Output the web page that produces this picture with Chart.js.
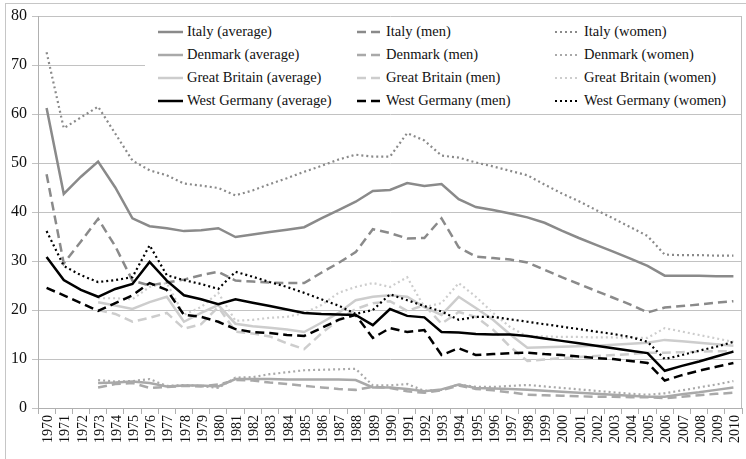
<!DOCTYPE html>
<html>
<head>
<meta charset="utf-8">
<script src="https://cdn.jsdelivr.net/npm/chart.js@4.4.1/dist/chart.umd.min.js"></script>
<style>
  html, body { margin: 0; padding: 0; background: #fff; }
  #wrap { position: relative; width: 746px; height: 459px; overflow: hidden; font-family: 'Liberation Serif', 'Times New Roman', 'DejaVu Serif', serif; }
  #frame { position: absolute; left: 5px; top: 3px; width: 800px; height: 500px; border: 1px solid #c6c6c6; pointer-events: none; }
  #legend { position: absolute; left: 145px; top: 17px; width: 596px; height: 95px; background: #fff; }
  .item { position: absolute; height: 20px; line-height: 20px; font-size: 14.5px; color: #111; white-space: nowrap; }
  .item svg { position: absolute; left: 0; top: 9px; }
  .item span { position: absolute; left: 29px; top: 0; }
</style>
</head>
<body>
<div id="wrap">
  <canvas id="chart" width="746" height="459"></canvas>
  <div id="legend"></div>
  <div id="frame"></div>
</div>
<script>
const years = [];
for (let y = 1970; y <= 2010; y++) years.push(String(y));

const yTicks = [0, 10, 20, 30, 40, 50, 60, 70, 80];

// 1970 .. 2010
const italyAvg = [61.2, 43.7, 47.2, 50.3, 45, 38.7, 37.1, 36.7, 36.1, 36.3, 36.7, 34.9, 35.4, 35.9, 36.4, 36.9, 38.7, 40.4, 42.1, 44.3, 44.5, 45.9, 45.3, 45.7, 42.6, 41, 40.4, 39.7, 38.9, 37.8, 36.2, 34.7, 33.3, 31.9, 30.5, 29, 27, 27, 27, 26.9, 26.9];
const italyMen = [47.7, 29.5, 34, 38.6, 33, 26, 25, 25.6, 26.2, 27.1, 27.8, 26, 25.8, 25.6, 25.5, 25.5, 27.6, 29.6, 31.8, 36.5, 35.7, 34.6, 34.7, 38.7, 32.8, 30.9, 30.6, 30.3, 29.7, 28.2, 26.7, 25.3, 23.9, 22.5, 21.1, 19.5, 20.5, 20.8, 21.1, 21.5, 21.8];
const italyWomen = [72.6, 57.1, 59.3, 61.5, 56, 50.5, 48.5, 47.5, 45.8, 45.4, 44.9, 43.4, 44.4, 45.7, 46.9, 48.2, 49.4, 50.7, 51.7, 51.3, 51.3, 56.1, 54.6, 51.5, 51.1, 50.1, 49.3, 48.4, 47.5, 45.6, 43.8, 42.2, 40.4, 38.7, 36.9, 35.1, 31.3, 31.2, 31.2, 31.1, 31.1];

const denmarkAvg = [null, null, null, 5.1, 5.2, 5.4, 5.1, 4.4, 4.6, 4.6, 4.4, 5.9, 5.9, 5.9, 5.8, 5.8, 5.8, 5.8, 5.7, 4.2, 4.2, 3.9, 3.4, 3.8, 4.8, 4.1, 4, 3.9, 3.7, 3.5, 3.3, 3.1, 2.9, 2.7, 2.5, 2.3, 2.3, 2.8, 3.2, 3.7, 4.2];
const denmarkMen = [null, null, null, 4.2, 4.9, 5.1, 4.1, 4.3, 4.5, 4.4, 4.8, 5.7, 5.6, 5.2, 4.9, 4.5, 4.2, 3.9, 3.7, 4.3, 4.1, 3.4, 3.1, 3.6, 4.6, 3.9, 3.6, 3.2, 2.7, 2.6, 2.5, 2.4, 2.3, 2.3, 2.2, 2.2, 2, 2.3, 2.6, 2.9, 3.1];
const denmarkWomen = [null, null, null, 5.7, 5.4, 5.5, 5.9, 4.5, 4.7, 4.5, 4.1, 6.2, 6.3, 6.9, 7.3, 7.7, 7.8, 7.9, 8, 4.6, 4.6, 4.9, 3.5, 3.7, 4.8, 4.3, 4.3, 4.5, 4.7, 4.4, 4.1, 3.8, 3.5, 3.2, 2.9, 2.7, 3, 3.6, 4.2, 4.8, 5.5];

const britainAvg = [null, null, null, 21.6, 20.9, 20.2, 21.6, 22.7, 17.6, 19.4, 21, 17.2, 16.7, 16.4, 16, 15.5, 17.4, 19.4, 22, 22.7, 23, 22.7, 20.6, 19, 22.7, 20.4, 18, 15, 12.3, 12.4, 12.5, 12.6, 12.7, 12.9, 13.1, 13.3, 13.9, 13.6, 13.3, 13, 12.7];
const britainMen = [null, null, null, 20, 19.2, 17.6, 18.4, 19.4, 16.2, 17.1, 20.6, 15.6, 15.2, 14.6, 13.2, 12, 15.2, 18, 20.2, 21.4, 21.8, 19.8, 21, 17.2, 19.6, 18.6, 16, 12.5, 9.6, 9.9, 10.2, 10.4, 10.6, 10.8, 11, 11.3, 11.3, 11.4, 11.5, 11.6, 11.6];
const britainWomen = [null, null, null, 22.4, 22.4, 22.2, 24.7, 25.5, 19, 20.6, 23.5, 17.8, 18, 18.4, 18.6, 19.4, 21, 23.5, 24.7, 25.5, 24.7, 26.7, 20.6, 21.4, 25.5, 22.7, 19.4, 16.5, 14.6, 14.6, 14.5, 14.5, 14.4, 14.4, 14.3, 14.3, 16.3, 15.6, 14.9, 14.2, 13.5];

const germanyAvg = [30.8, 26.1, 24.1, 22.7, 24.3, 25.3, 29.8, 26, 23, 22.2, 21.2, 22.2, 21.5, 20.8, 20.1, 19.4, 19.2, 19.1, 19, 16.9, 20.2, 18.8, 18.5, 15.5, 15.4, 15.1, 15, 15, 14.7, 14.2, 13.7, 13.2, 12.7, 12.2, 11.7, 11.2, 7.6, 8.6, 9.5, 10.5, 11.5];
const germanyMen = [24.5, 23, 21.4, 19.8, 21.4, 23, 25.5, 24.1, 19, 18.6, 17.6, 16.1, 15.5, 15.3, 14.9, 14.7, 16.3, 18, 19, 14.3, 16.3, 15.5, 15.9, 10.8, 12.2, 10.8, 11, 11.2, 11.3, 11, 10.8, 10.5, 10.2, 10, 9.6, 9.2, 5.6, 6.7, 7.6, 8.4, 9.2];
const germanyWomen = [36.1, 29, 27.1, 25.7, 26.1, 26.7, 33.2, 27.1, 26.1, 25.3, 24.3, 27.8, 26.8, 25.7, 24.7, 23.5, 22.2, 20.9, 19.2, 20, 23.2, 22, 20.8, 19.7, 18, 18.6, 18.6, 18.1, 17.6, 17.1, 16.6, 16.1, 15.6, 15.1, 14.5, 13.5, 10, 10.8, 11.7, 12.5, 13.5];

const FONT = "'Liberation Serif', 'Times New Roman', 'DejaVu Serif', serif";
const COLORS = { italy: '#8a8a8a', denmark: '#a9a9a9', britain: '#cdcdcd', germany: '#000000' };
const STYLES = {
  average: { dash: [], width: 2.5 },
  men: { dash: [9, 5], width: 2.5 },
  women: { dash: [2, 3], width: 2.2 },
};

// legend layout is column-major: averages, men, women
const series = [
  { label: 'Italy (average)', data: italyAvg, color: COLORS.italy, style: 'average', col: 0, row: 0 },
  { label: 'Denmark (average)', data: denmarkAvg, color: COLORS.denmark, style: 'average', col: 0, row: 1 },
  { label: 'Great Britain (average)', data: britainAvg, color: COLORS.britain, style: 'average', col: 0, row: 2 },
  { label: 'West Germany (average)', data: germanyAvg, color: COLORS.germany, style: 'average', col: 0, row: 3 },
  { label: 'Italy (men)', data: italyMen, color: COLORS.italy, style: 'men', col: 1, row: 0 },
  { label: 'Denmark (men)', data: denmarkMen, color: COLORS.denmark, style: 'men', col: 1, row: 1 },
  { label: 'Great Britain (men)', data: britainMen, color: COLORS.britain, style: 'men', col: 1, row: 2 },
  { label: 'West Germany (men)', data: germanyMen, color: COLORS.germany, style: 'men', col: 1, row: 3 },
  { label: 'Italy (women)', data: italyWomen, color: COLORS.italy, style: 'women', col: 2, row: 0 },
  { label: 'Denmark (women)', data: denmarkWomen, color: COLORS.denmark, style: 'women', col: 2, row: 1 },
  { label: 'Great Britain (women)', data: britainWomen, color: COLORS.britain, style: 'women', col: 2, row: 2 },
  { label: 'West Germany (women)', data: germanyWomen, color: COLORS.germany, style: 'women', col: 2, row: 3 },
];

// germany on top, then italy, then the light ones
const drawRank = { germany: 0, italy: 1, denmark: 2, britain: 3 };
const datasets = series.map(s => {
  const key = Object.keys(COLORS).find(k => COLORS[k] === s.color);
  return {
    label: s.label,
    data: s.data,
    borderColor: s.color,
    borderWidth: STYLES[s.style].width,
    borderDash: STYLES[s.style].dash,
    borderCapStyle: 'butt',
    pointRadius: 0,
    tension: 0,
    fill: false,
    order: drawRank[key],
  };
});

const plotBorder = {
  id: 'plotBorder',
  afterDraw(chart) {
    const { ctx, chartArea } = chart;
    ctx.save();
    ctx.strokeStyle = '#bdbdbd';
    ctx.lineWidth = 1;
    ctx.beginPath();
    ctx.moveTo(Math.round(chartArea.right) - 0.5, chartArea.top);
    ctx.lineTo(Math.round(chartArea.right) - 0.5, chartArea.bottom);
    ctx.stroke();
    ctx.restore();
  },
};

new Chart(document.getElementById('chart'), {
  type: 'line',
  data: { labels: years, datasets },
  options: {
    responsive: false,
    animation: false,
    layout: { padding: { top: 16, right: 4, left: 0, bottom: 0 } },
    plugins: { legend: { display: false }, tooltip: { enabled: false } },
    scales: {
      x: {
        offset: true,
        grid: { offset: true, drawOnChartArea: false, tickLength: 6, color: '#b0b0b0' },
        border: { color: '#b0b0b0' },
        ticks: {
          autoSkip: false, minRotation: 90, maxRotation: 90, padding: 1, labelOffset: 2,
          color: '#111', font: { family: FONT, size: 14 },
        },
        afterFit: s => { s.height = 51; s.paddingLeft = 0; s.paddingRight = 0; },
      },
      y: {
        min: 0, max: 80,
        afterBuildTicks: s => { s.ticks = yTicks.map(v => ({ value: v })); },
        grid: { color: '#c2c2c2', tickLength: 6 },
        border: { color: '#b0b0b0' },
        ticks: { padding: 5, color: '#111', font: { family: FONT, size: 16 } },
        afterFit: s => { s.width = 38; },
      },
    },
  },
  plugins: [plotBorder],
});

// legend
const legendEl = document.getElementById('legend');
const colX = [13, 212, 410];
const rowY = [4, 27, 50, 73];
for (const s of series) {
  const st = STYLES[s.style];
  const div = document.createElement('div');
  div.className = 'item';
  div.style.left = colX[s.col] + 'px';
  div.style.top = rowY[s.row] + 'px';
  div.innerHTML = `<svg width="25" height="4"><line x1="0" y1="2" x2="25" y2="2" stroke="${s.color}" stroke-width="${st.width}" stroke-dasharray="${st.dash.join(' ')}"/></svg><span></span>`;
  div.querySelector('span').textContent = s.label;
  legendEl.appendChild(div);
}
</script>
</body>
</html>
